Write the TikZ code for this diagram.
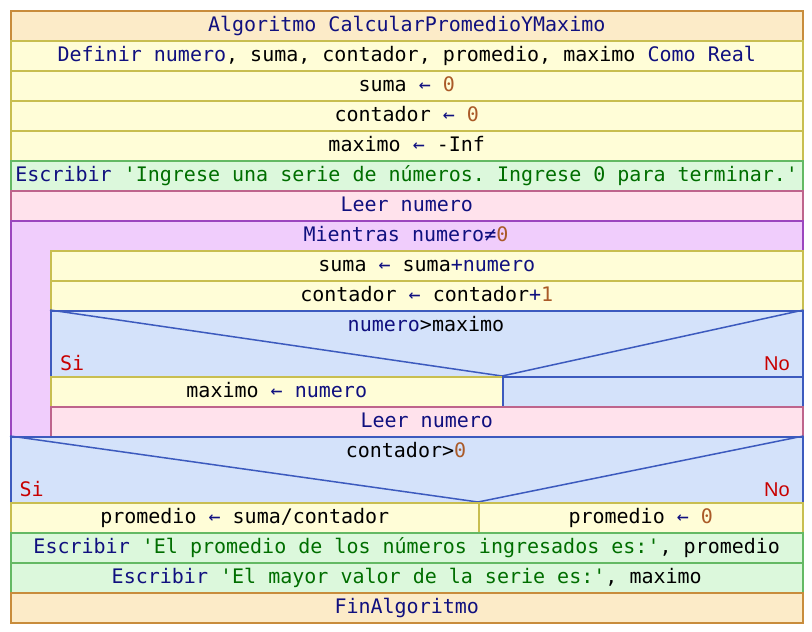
\documentclass[tikz,border=0pt]{standalone}
\usepackage{fontspec}
\setmonofont{DejaVu Sans Mono}
\newfontfamily\nofont{Liberation Sans}
\definecolor{orF}{HTML}{FCEBC8}\definecolor{orD}{HTML}{C88C3C}
\definecolor{yeF}{HTML}{FFFDD7}\definecolor{yeD}{HTML}{C8BE50}
\definecolor{grF}{HTML}{DCF8DC}\definecolor{grD}{HTML}{64B964}
\definecolor{piF}{HTML}{FFE2EC}\definecolor{piD}{HTML}{BE648C}
\definecolor{puF}{HTML}{F0CDFC}\definecolor{puD}{HTML}{9B46BE}
\definecolor{blF}{HTML}{D4E2FA}\definecolor{blD}{HTML}{3C5ABE}
\definecolor{kwc}{HTML}{10107F}
\definecolor{strc}{HTML}{006E00}
\definecolor{numc}{HTML}{AA5A28}
\definecolor{sinoc}{HTML}{C80000}
\newcommand{\kw}[1]{\textcolor{kwc}{#1}}
\newcommand{\st}[1]{\textcolor{strc}{#1}}
\newcommand{\nm}[1]{\textcolor{numc}{#1}}
\newcommand{\fs}{\fontsize{20}{24}\selectfont\ttfamily}
\tikzset{
  box/.style={draw, line width=1.5pt, inner sep=0pt, anchor=north west,
    text height=15.5pt, text depth=4.5pt, font=\fs},
  sz/.style 2 args={minimum width=#1pt, minimum height=#2pt},
  ora/.style={fill=orF, draw=orD},
  yel/.style={fill=yeF, draw=yeD},
  grn/.style={fill=grF, draw=grD},
  pnk/.style={fill=piF, draw=piD},
  pur/.style={fill=puF, draw=puD},
  blu/.style={fill=blF, draw=blD},
  lbl/.style={inner sep=0pt, anchor=base, font=\fs},
  si/.style={inner sep=0pt, anchor=base west, font=\fs, text=sinoc},
  no/.style={inner sep=0pt, anchor=base east, font=\fontsize{20}{24}\selectfont\nofont, text=sinoc},
  tri/.style={draw=blD, line width=1.5pt}
}
\begin{document}
\begin{tikzpicture}[x=1pt,y=-1pt]
\useasboundingbox (0,0) rectangle (812,632);
\node[box, ora, sz={792}{30}] (title) at (10,10) {\kw{Algoritmo CalcularPromedioYMaximo}};
\node[box, yel, sz={792}{30}] (def) at (10,40) {\kw{Definir numero}, suma, contador, promedio, maximo \kw{Como Real}};
\node[box, yel, sz={792}{30}] (a1) at (10,70) {suma \kw{←} \nm{0}};
\node[box, yel, sz={792}{30}] (a2) at (10,100) {contador \kw{←} \nm{0}};
\node[box, yel, sz={792}{30}] (a3) at (10,130) {maximo \kw{←} -Inf};
\node[box, grn, sz={792}{30}] (w1) at (10,160) {\kw{Escribir} \st{'Ingrese una serie de números. Ingrese 0 para terminar.'}};
\node[box, pnk, sz={792}{30}] (r1) at (10,190) {\kw{Leer numero}};
\node[box, pur, sz={792}{216}] (loop) at (10,220) {};
\node[lbl] (lh) at (406,241.5) {\kw{Mientras numero≠}\nm{0}};
\node[box, yel, sz={752}{30}] (b1) at (50,250) {suma \kw{←} suma\kw{+numero}};
\node[box, yel, sz={752}{30}] (b2) at (50,280) {contador \kw{←} contador\kw{+}\nm{1}};
\node[box, blu, sz={752}{96}] (if1) at (50,310) {};
\coordinate (apex1) at (502,376);
\draw[tri] (if1.north west) -- (apex1) -- (if1.north east);
\node[lbl] (c1) at (426,331) {\kw{numero}>maximo};
\node[box, yel, sz={452}{30}] (y1) at (50,376) {maximo \kw{←} \kw{numero}};
\node[box, blu, sz={300}{30}] (e1) at (502,376) {};
\node[si] (si1) at (60,370.5) {Si};
\node[no] (no1) at (790,370.5) {No};
\node[box, pnk, sz={752}{30}] (r2) at (50,406) {\kw{Leer numero}};
\node[box, blu, sz={792}{66}] (if2) at (10,436) {};
\coordinate (apex2) at (478,502);
\draw[tri] (if2.north west) -- (apex2) -- (if2.north east);
\node[lbl] (c2) at (406,457) {contador>\nm{0}};
\node[si] (si2) at (19.5,496.5) {Si};
\node[no] (no2) at (790,496.5) {No};
\node[box, yel, sz={468}{30}] (p1) at (10,502) {promedio \kw{←} suma/contador};
\node[box, yel, sz={324}{30}] (p2) at (478,502) {promedio \kw{←} \nm{0}};
\node[box, grn, sz={792}{30}] (w2) at (10,532) {\kw{Escribir} \st{'El promedio de los números ingresados es:'}, promedio};
\node[box, grn, sz={792}{30}] (w3) at (10,562) {\kw{Escribir} \st{'El mayor valor de la serie es:'}, maximo};
\node[box, ora, sz={792}{30}] (fin) at (10,592) {\kw{FinAlgoritmo}};
\end{tikzpicture}
\end{document}
